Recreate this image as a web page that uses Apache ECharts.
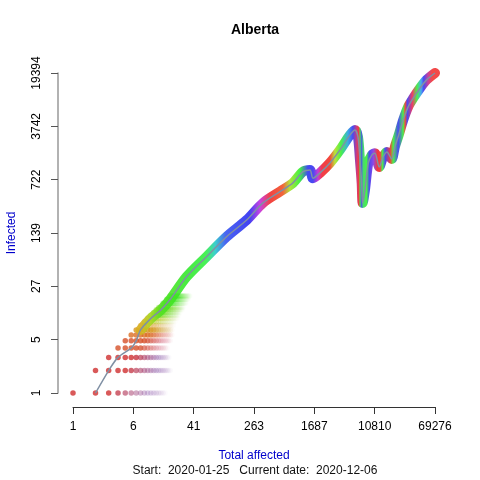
<!DOCTYPE html>
<html>
<head>
<meta charset="utf-8">
<script src="https://cdn.jsdelivr.net/npm/echarts@6.0.0/dist/echarts.min.js"></script>
<style>html,body{margin:0;padding:0;background:#fff}#chart{width:480px;height:480px}</style>
</head>
<body>
<div id="chart"></div>
<script>
// path of the curve (total affected -> infected)
var totalAffected = [2, 3, 4, 6, 7, 8, 11, 15, 20, 33, 61, 114, 210, 347, 585, 873, 1189, 1473, 1617, 2005,
    2729, 3714, 5050, 5888, 6457, 6871, 7244, 7464, 8017, 8870, 9935, 10900, 12440, 14070, 15770, 18230,
    20180, 22330, 26060, 30400, 35420, 43540, 53530, 69276];
var infected = [1, 2, 3, 4, 5, 7, 10, 13, 18, 36, 67, 125, 208, 352, 499, 653, 926, 976, 755, 889,
    1211, 1808, 2873, 3352, 2729, 1328, 653, 352, 526, 1200, 1550, 1634, 1070, 1471, 1701, 1370,
    2004, 2729, 4567, 6885, 8917, 12140, 15700, 19394];

var xTicks = ['1', '6', '41', '263', '1687', '10810', '69276'];
var yTicks = ['1', '5', '27', '139', '722', '3742', '19394'];
var xMax = 69276, yMax = 19394;

// faded dot rows at the lower left: infected value, first and last total
var trailY    = [1, 2, 3, 4, 5, 6, 7, 8, 9, 10, 11, 12, 13, 14, 16, 18, 20];
var trailFrom = [1, 2, 3, 4, 5, 6, 7, 8, 9, 10, 11, 12, 13, 14, 16, 18, 20];
var trailTo   = [18, 21, 20, 19, 21, 22, 22, 23, 24, 26, 27, 28, 30, 31, 34, 36, 38];

// band colour at some totals along the curve
var hueAt = [8, 11, 15, 33, 60, 80, 110, 230, 316, 430, 640, 790, 1080, 1380, 1620, 1890, 2130, 2730, 3180,
    3830, 4740, 5530, 6270, 6650, 6870, 7300, 7500, 8430, 9130, 10390, 11800, 12800, 13700, 15000, 17400,
    19150, 22300, 26000, 27700, 29500, 34400, 39800, 45100, 49000, 55800, 63000, 69276];
var hueCol = ['#d8b020', '#a8d820', '#50e020', '#30e828', '#30f040', '#20c8c8', '#3050f0', '#2828f0', '#c028e0',
    '#f02828', '#f05020', '#a8e020', '#28f028', '#2830f0', '#3030f0', '#c020d0', '#f02030', '#f03020', '#b0e020',
    '#30f030', '#20a0e0', '#3030f0', '#d02060', '#f02020', '#30e040', '#3030f0', '#30d060', '#30f030', '#3030f0',
    '#8030e0', '#f02020', '#f02828', '#30f030', '#3030f0', '#f02020', '#30f030', '#3030f0', '#30f030', '#f03020',
    '#3030f0', '#f02050', '#30f030', '#30a0f0', '#3030f0', '#c02890', '#f03030', '#f03030'];

function mix(a, b, k) {
    return [0, 1, 2].map(function (i) { return Math.round(a[i] + (b[i] - a[i]) * k); });
}

function trailColour(y, t) {
    var base, tail;
    if (y <= 3) { base = [208, 48, 48]; tail = [140, 90, 170]; }
    else if (y <= 5) { base = [214, 80, 40]; tail = [220, 130, 150]; }
    else if (y <= 6) { base = [220, 110, 35]; tail = [230, 150, 140]; }
    else if (y <= 8) { base = [215, 150, 30]; tail = [220, 190, 120]; }
    else if (y <= 10) { base = [180, 200, 30]; tail = [200, 220, 120]; }
    else if (y <= 14) { base = [110, 220, 30]; tail = [170, 230, 120]; }
    else { base = [60, 230, 30]; tail = [150, 235, 120]; }
    var k = Math.max(0, Math.min(1, (t - 0.4) / 0.4));
    var c = mix(base, tail, k);
    var a;
    if (y <= 7) a = t < 0.45 ? 1 : Math.max(0, 1 - (t - 0.45) / 0.55);
    else a = (t < 0.15 ? 1 : Math.max(0, 1 - (t - 0.15) / 0.85)) * 0.55;
    return 'rgba(' + c.join(',') + ',' + a.toFixed(3) + ')';
}

var trail = [];
trailY.forEach(function (y, r) {
    var a = trailFrom[r], b = trailTo[r];
    for (var x = a; x <= b; x++) {
        var t = (Math.log(x) - Math.log(a)) / (Math.log(b) - Math.log(a));
        trail.push({ value: [x, y], itemStyle: { color: trailColour(y, t) } });
    }
});

var path = totalAffected.map(function (x, i) { return [x, infected[i]]; });
var bandStart = 5;

var xBase = Math.pow(xMax, 1 / 6), yBase = Math.pow(yMax, 1 / 6);
var font = 'Liberation Sans, Arial, sans-serif';

var chart = echarts.init(document.getElementById('chart'));
chart.setOption({
    animation: false,
    backgroundColor: '#fff',
    grid: { left: 73, right: 45, top: 73, bottom: 87, outerBoundsMode: 'none' },
    xAxis: {
        type: 'log', logBase: xBase, min: 1, max: xMax, offset: 14,
        name: 'Total affected', nameLocation: 'middle', nameGap: 43,
        nameTextStyle: { color: '#0000cc', fontSize: 12, fontFamily: font },
        axisLine: { lineStyle: { color: '#333', width: 1 } },
        axisTick: { length: 7, lineStyle: { color: '#333' } },
        axisLabel: {
            margin: 14, color: '#000', fontSize: 12, fontFamily: font,
            formatter: function (v) { return xTicks[Math.round(Math.log(v) / Math.log(xBase))]; }
        },
        splitLine: { show: false }, minorTick: { show: false }
    },
    yAxis: {
        type: 'log', logBase: yBase, min: 1, max: yMax, offset: 15,
        name: 'Infected', nameLocation: 'middle', nameGap: 40,
        nameTextStyle: { color: '#0000cc', fontSize: 12, fontFamily: font },
        axisLine: { lineStyle: { color: '#999', width: 1.5 } },
        axisTick: { length: 7, lineStyle: { color: '#555' } },
        axisLabel: {
            rotate: 90, margin: 15, color: '#000', fontSize: 12, fontFamily: font,
            formatter: function (v) { return yTicks[Math.round(Math.log(v) / Math.log(yBase))]; }
        },
        splitLine: { show: false }, minorTick: { show: false }
    },
    graphic: [
        { type: 'text', x: 255, y: 30, style: { text: 'Alberta', fill: '#000', font: 'bold 14px ' + font, textAlign: 'center', textVerticalAlign: 'middle' } },
        { type: 'text', x: 255, y: 471, style: { text: 'Start:  2020-01-25   Current date:  2020-12-06', fill: '#111', font: '12px ' + font, textAlign: 'center', textVerticalAlign: 'middle' } }
    ],
    series: [
        {
            type: 'scatter', data: trail, symbol: 'circle', symbolSize: 5.5, clip: false, z: 1,
            silent: true
        },
        {
            id: 'band', type: 'line', data: path.slice(bandStart), showSymbol: false, smooth: 0.3, clip: false, z: 2,
            lineStyle: { width: 10, cap: 'round', join: 'round', opacity: 0.88, color: '#30e030' }
        },
        {
            type: 'line', data: path, showSymbol: false, smooth: 0.3, clip: false, z: 3,
            lineStyle: { width: 1.5, color: '#8090a4' }
        }
    ]
});

var p0 = chart.convertToPixel({ xAxisIndex: 0 }, hueAt[0]);
var p1 = chart.convertToPixel({ xAxisIndex: 0 }, hueAt[hueAt.length - 1]);
var stops = hueAt.map(function (v, i) {
    var off = (chart.convertToPixel({ xAxisIndex: 0 }, v) - p0) / (p1 - p0);
    return { offset: Math.max(0, Math.min(1, off)), color: hueCol[i] };
});
chart.setOption({
    series: [{
        id: 'band',
        lineStyle: { color: { type: 'linear', x: p0, y: 0, x2: p1, y2: 0, global: true, colorStops: stops } }
    }]
});
</script>
</body>
</html>
